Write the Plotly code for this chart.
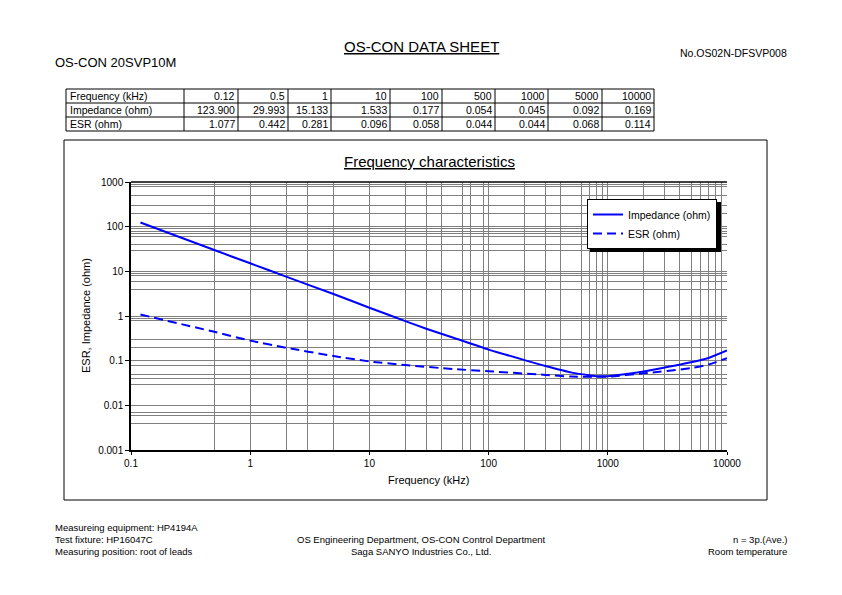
import plotly.graph_objects as go

# page is 842x595; the browser body keeps an 8px margin, so the figure is 16px smaller
PAGE_W, PAGE_H = 842, 595
OFF = 8
W, H = PAGE_W - 2 * OFF, PAGE_H - 2 * OFF
FONT = "Liberation Sans, Arial, sans-serif"

# ---------------- data ----------------
table_freq = ["0.12", "0.5", "1", "10", "100", "500", "1000", "5000", "10000"]
table_imp = [123.900, 29.993, 15.133, 1.533, 0.177, 0.054, 0.045, 0.092, 0.169]
table_esr = [1.077, 0.442, 0.281, 0.096, 0.058, 0.044, 0.044, 0.068, 0.114]

imp_freq = [0.12, 0.5, 1, 2, 5, 10, 20, 30, 50, 100, 200, 300, 500, 700, 800, 1000, 2000, 3000, 5000, 7000, 10000]
imp_vals = [123.9, 29.993, 15.133, 7.6, 3.1, 1.533, 0.77, 0.52, 0.33, 0.177, 0.103, 0.076, 0.054, 0.047, 0.045, 0.045, 0.057, 0.070, 0.092, 0.115, 0.169]

esr_freq = [0.12, 0.5, 1, 2, 5, 10, 20, 50, 100, 300, 500, 1000, 2000, 5000, 7000, 10000]
esr_vals = [1.077, 0.442, 0.281, 0.195, 0.127, 0.096, 0.080, 0.065, 0.058, 0.048, 0.044, 0.044, 0.052, 0.068, 0.082, 0.114]

x_ticks = [0.1, 1, 10, 100, 1000, 10000]
x_ticktext = ["0.1", "1", "10", "100", "1000", "10000"]
y_ticks = [0.001, 0.01, 0.1, 1, 10, 100, 1000]
y_ticktext = ["0.001", "0.01", "0.1", "1", "10", "100", "1000"]

# minor grid positions as visible in the reference
x_minor = [0.5, 2, 3, 5, 20, 30, 40, 60, 70, 90,
           200, 300, 400, 600, 700, 800, 900,
           2000, 3000, 4000, 5000, 6000, 7000, 8000, 9000]
y_minor = [0.004, 0.006, 0.007, 0.03, 0.04, 0.05, 0.08, 0.2, 0.3, 0.8, 0.9,
           4, 6, 8, 9, 30, 40, 60, 70, 80, 90, 200, 300, 500, 800, 900]


def px(x):
    return (x - OFF) / W


def py(y):
    return 1 - (y - OFF) / H


fig = go.Figure()
fig.add_trace(go.Scatter(x=imp_freq, y=imp_vals, mode="lines", name="Impedance (ohm)",
                         line=dict(color="#0000FF", width=2, shape="spline", smoothing=0.6)))
fig.add_trace(go.Scatter(x=esr_freq, y=esr_vals, mode="lines", name="ESR (ohm)",
                         line=dict(color="#0000FF", width=2, dash="9px,5px", shape="spline", smoothing=0.6)))

PL, PR, PT, PB = 131, 727, 182, 450

fig.update_xaxes(type="log", range=[-1, 4], domain=[px(PL), px(PR)],
                 tickvals=x_ticks, ticktext=x_ticktext, automargin=False,
                 showline=True, linecolor="black", linewidth=1.5,
                 ticks="outside", ticklen=3, tickcolor="black",
                 showgrid=True, gridcolor="#808080", gridwidth=1,
                 minor=dict(tickmode="array", tickvals=x_minor, showgrid=True,
                            gridcolor="#808080", gridwidth=1, ticks=""),
                 tickfont=dict(size=10, color="black", family=FONT),
                 zeroline=False)
fig.update_yaxes(type="log", range=[-3, 3], domain=[py(PB), py(PT)],
                 tickvals=y_ticks, ticktext=y_ticktext, automargin=False,
                 showline=True, linecolor="black", linewidth=1.5,
                 ticks="outside", ticklen=4, tickcolor="black",
                 showgrid=True, gridcolor="#808080", gridwidth=1,
                 minor=dict(tickmode="array", tickvals=y_minor, showgrid=True,
                            gridcolor="#808080", gridwidth=1, ticks=""),
                 tickfont=dict(size=10, color="black", family=FONT),
                 zeroline=False)

shapes = []
# outer chart frame
shapes.append(dict(type="rect", xref="paper", yref="paper", x0=px(64), x1=px(767),
                   y0=py(500), y1=py(140), line=dict(color="black", width=1)))
# top border of plot area
shapes.append(dict(type="line", xref="paper", yref="paper", x0=px(PL), x1=px(PR),
                   y0=py(PT), y1=py(PT), line=dict(color="black", width=1.5)))
# legend shadow
LEG_L, LEG_T, LEG_W, LEG_H = 587, 199, 131, 50
shapes.append(dict(type="rect", xref="paper", yref="paper", x0=px(LEG_L + 3), x1=px(LEG_L + LEG_W + 3),
                   y0=py(LEG_T + LEG_H + 3), y1=py(LEG_T + 3), line=dict(width=0),
                   fillcolor="black", layer="above"))

annotations = []


def text(x, y, s, size, anchor="left", **kw):
    annotations.append(dict(x=px(x), y=py(y), xref="paper", yref="paper", text=s,
                            showarrow=False, xanchor=anchor, yanchor="middle",
                            font=dict(size=size, color="black", family=FONT), **kw))


# header
text(421, 46, "<u>OS-CON DATA SHEET</u>", 15, "center")
text(53, 62, "OS-CON 20SVP10M", 13)
text(789, 53, "No.OS02N-DFSVP008", 10.5, "right")

# table
col_edges = [66, 184, 238, 288, 331, 390, 442, 495, 548, 602, 654]
row_edges = [89, 103, 117, 131]
rows = [["Frequency (kHz)"] + table_freq,
        ["Impedance (ohm)"] + [f"{v:.3f}" for v in table_imp],
        ["ESR (ohm)"] + [f"{v:.3f}" for v in table_esr]]
for ye in row_edges:
    shapes.append(dict(type="line", xref="paper", yref="paper", x0=px(col_edges[0]), x1=px(col_edges[-1]),
                       y0=py(ye), y1=py(ye), line=dict(color="black", width=1)))
for xe in col_edges:
    shapes.append(dict(type="line", xref="paper", yref="paper", x0=px(xe), x1=px(xe),
                       y0=py(row_edges[0]), y1=py(row_edges[-1]), line=dict(color="black", width=1)))
for r, row in enumerate(rows):
    yc = (row_edges[r] + row_edges[r + 1]) / 2
    for c, val in enumerate(row):
        if c == 0:
            text(col_edges[0] + 2, yc, val, 10.5)
        else:
            text(col_edges[c + 1] - 1.5, yc, val, 10.5, "right")

# chart title and axis titles
text(429, 161, "<u>Frequency characteristics</u>", 15, "center")
text(428, 480, "Frequency (kHz)", 11, "center")
annotations.append(dict(x=px(86), y=py(316), xref="paper", yref="paper", text="ESR, Impedance (ohm)",
                        showarrow=False, textangle=-90, xanchor="center", yanchor="middle",
                        font=dict(size=11, color="black", family=FONT)))

# footer
text(53, 527, "Measureing equipment: HP4194A", 9.5)
text(53, 539, "Test fixture: HP16047C", 9.5)
text(53, 551, "Measuring position: root of leads", 9.5)
text(421, 539, "OS Engineering Department, OS-CON Control Department", 9.5, "center")
text(421, 551, "Saga SANYO Industries Co., Ltd.", 9.5, "center")
text(789, 539, "n = 3p.(Ave.)", 9.5, "right")
text(789, 551, "Room temperature", 9.5, "right")

fig.update_layout(
    width=W, height=H, margin=dict(l=0, r=0, t=0, b=0, pad=0, autoexpand=False),
    paper_bgcolor="white", plot_bgcolor="white",
    font=dict(family=FONT, color="black"),
    shapes=shapes, annotations=annotations,
    showlegend=True,
    legend=dict(x=px(LEG_L), y=py(LEG_T), xanchor="left", yanchor="top",
                bgcolor="white", bordercolor="black", borderwidth=1,
                font=dict(size=10.5, color="black", family=FONT),
                tracegroupgap=0, itemwidth=30),
)

fig.write_html("out.html")
